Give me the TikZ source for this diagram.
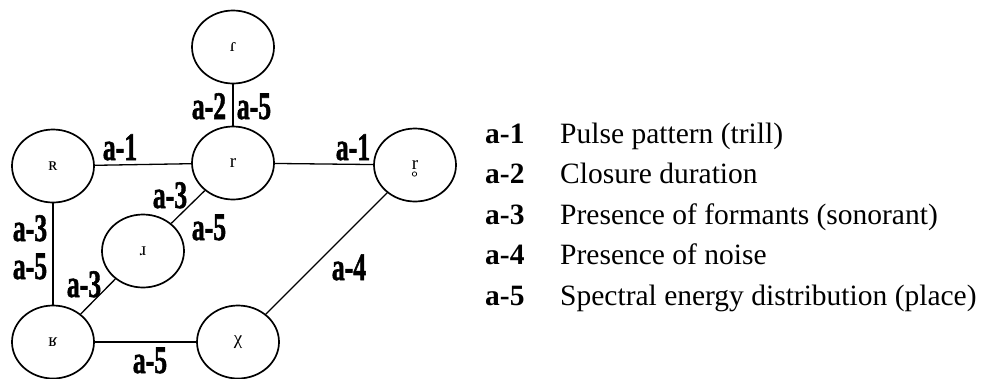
\documentclass[tikz,border=0pt]{standalone}
\usepackage{fontspec}
\setmainfont{Liberation Serif}
\newfontfamily\labfont[FakeBold=1.5]{Liberation Serif Bold}
\usetikzlibrary{shapes.geometric}
\begin{document}
\begin{tikzpicture}[x=1pt,y=-1pt,
  ph/.style={ellipse,draw,line width=1.7pt,minimum width=82pt,minimum height=73pt,inner sep=0pt,font=\fontsize{19}{19}\selectfont},
  edge/.style={line width=1.3pt},
  lab/.style={font=\labfont\fontsize{39}{39}\selectfont,xscale=0.66,inner sep=0pt,text height=26pt,text depth=0pt},
  key/.style={anchor=base west,inner sep=0pt,font=\fontsize{29.5}{30}\selectfont\bfseries},
  desc/.style={anchor=base west,inner sep=0pt,font=\fontsize{29.5}{30}\selectfont}]
\useasboundingbox (0,0) rectangle (981,378);
% nodes
\node[ph] (tap) at (233,47) {ɾ};
\node[ph] (uvr) at (53,166) {ʀ};
\node[ph] (r)   at (233,163) {r};
\node[ph] (vr)  at (415,165) {r};
\draw[line width=0.7pt] ([shift={(-0.5,9)}]vr.center) circle (2.2);
\node[ph] (apx) at (143,251) {ɹ};
\node[ph] (uvf) at (53,342) {ʁ};
\node[ph] (chi) at (238,342) {χ};
% connectors
\draw[edge] (tap) -- (r);
\draw[edge] (uvr) -- (r);
\draw[edge] (r) -- (vr);
\draw[edge] (r) -- (apx);
\draw[edge] (uvr) -- (uvf);
\draw[edge] (apx) -- (uvf);
\draw[edge] (uvf) -- (chi);
\draw[edge] (vr) -- (chi);
% edge labels
\node[lab] (l1) at (209,106) {a-2};
\node[lab] (l2) at (254,106) {a-5};
\node[lab] (l3) at (120,147) {a-1};
\node[lab] (l4) at (353,147) {a-1};
\node[lab] (l5) at (170,195) {a-3};
\node[lab] (l6) at (209,227) {a-5};
\node[lab] (l7) at (30,228) {a-3};
\node[lab] (l8) at (30,266) {a-5};
\node[lab] (l9) at (84,284) {a-3};
\node[lab] (l10) at (349,267) {a-4};
\node[lab] (l11) at (150,360) {a-5};
% legend
\node[key] (k1) at (485,143) {a-1};
\node[desc] (d1) at (560,143) {Pulse pattern (trill)};
\node[key] (k2) at (485,183.5) {a-2};
\node[desc] (d2) at (560,183.5) {Closure duration};
\node[key] (k3) at (485,224) {a-3};
\node[desc] (d3) at (560,224) {Presence of formants (sonorant)};
\node[key] (k4) at (485,264.5) {a-4};
\node[desc] (d4) at (560,264.5) {Presence of noise};
\node[key] (k5) at (485,305) {a-5};
\node[desc] (d5) at (560,305) {Spectral energy distribution (place)};
\end{tikzpicture}
\end{document}
